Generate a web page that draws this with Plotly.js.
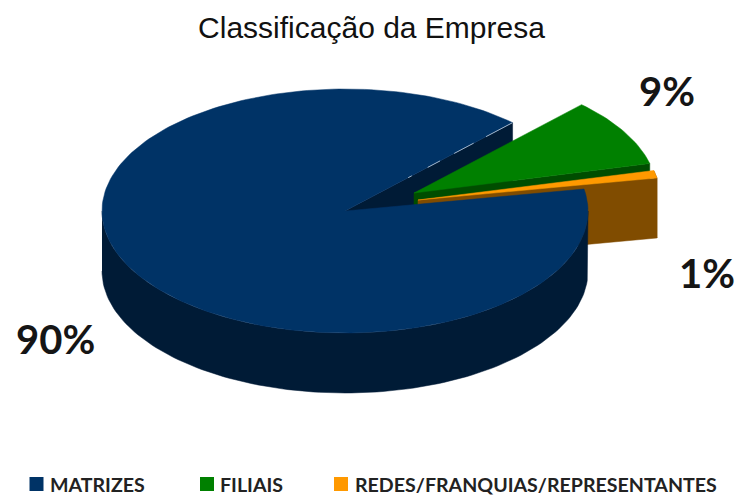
<!DOCTYPE html>
<html>
<head>
<meta charset="utf-8">
<script src="https://cdn.plot.ly/plotly-3.0.1.min.js"></script>
<style>html,body{margin:0;padding:0;background:#fff}#chart{width:737px;height:497px}</style>
</head>
<body>
<div id="chart"></div>
<script>
// data
var categories = ['MATRIZES', 'FILIAIS', 'REDES/FRANQUIAS/REPRESENTANTES'];
var shares = [90, 9, 1];
var percentLabels = ['90%', '9%', '1%'];

// style
var topColors = ['#003366', '#008000', '#FF9900'];
var wallColors = ['#001B36', '#004D00', '#804C00'];
var centres = [[345, 211], [414, 193], [418, 200]];
var labelAnchors = [[55, 339], [667, 91], [707, 273]];
var legendMarkX = [36.5, 207, 341];
var legendTextX = [50, 220, 355];
var legendY = 484;
var RX = 243, RY = 122, DEPTH = 60, START = 46.4;

function rad(d) { return d * Math.PI / 180; }
function pt(c, t, dy) { return [c[0] + RX * Math.cos(rad(t)), c[1] - RY * Math.sin(rad(t)) + (dy || 0)]; }
function arc(c, a, b, dy) {
  var n = Math.max(2, Math.ceil(Math.abs(b - a) / 1.5)), out = [];
  for (var i = 0; i <= n; i++) out.push(pt(c, a + (b - a) * i / n, dy));
  return out;
}
function poly(points, color) {
  return {
    type: 'scatter', mode: 'lines', fill: 'toself', fillcolor: color,
    x: points.map(function (p) { return p[0]; }), y: points.map(function (p) { return p[1]; }),
    line: { width: 0.5, color: color }, showlegend: false, hoverinfo: 'skip'
  };
}
function radialWall(c, t, color) {
  var e = pt(c, t);
  return poly([c, e, [e[0], e[1] + DEPTH], [c[0], c[1] + DEPTH], c], color);
}

// angular spans derived from shares: first slice runs counter-clockwise from START,
// the others run clockwise from START
var total = shares.reduce(function (a, b) { return a + b; }, 0);
var span = shares.map(function (v) { return v / total * 360; });
var mainEnd = START + span[0];
var greenEnd = START - span[1];
var orangeEnd = greenEnd - span[2];

var traces = [];
// main slice cut face behind the exploded slices
traces.push(radialWall(centres[0], START, wallColors[0]));
// green
traces.push(radialWall(centres[1], greenEnd, wallColors[1]));
traces.push(poly([centres[1]].concat(arc(centres[1], START, greenEnd)).concat([centres[1]]), topColors[1]));
// orange
traces.push(radialWall(centres[2], orangeEnd, wallColors[2]));
traces.push(poly(arc(centres[2], greenEnd, orangeEnd).concat(arc(centres[2], orangeEnd, greenEnd, DEPTH)), wallColors[2]));
traces.push(poly([centres[2]].concat(arc(centres[2], greenEnd, orangeEnd)).concat([centres[2]]), topColors[2]));
// main outer wall (front half of the rim) and top
traces.push(poly(arc(centres[0], 180, 360).concat(arc(centres[0], 360, 180, DEPTH)), wallColors[0]));
traces.push(poly([centres[0]].concat(arc(centres[0], START, mainEnd)).concat([centres[0]]), topColors[0]));
// faint dotted highlight on the cut edge
var edge = pt(centres[0], START);
traces.push({
  type: 'scatter', mode: 'lines', x: [edge[0], centres[0][0]], y: [edge[1], centres[0][1]],
  line: { width: 1, color: '#9fb3c8', dash: '30px,14px,22px,16px,14px,18px,4px,200px' },
  showlegend: false, hoverinfo: 'skip'
});

// legend row
categories.forEach(function (name, i) {
  traces.push({
    type: 'scatter', mode: 'markers', x: [legendMarkX[i]], y: [legendY], name: name,
    marker: { symbol: 'square', size: 14, color: topColors[i] },
    showlegend: false, hoverinfo: 'skip', cliponaxis: false
  });
});

var annotations = percentLabels.map(function (t, i) {
  return {
    x: labelAnchors[i][0], y: labelAnchors[i][1], xref: 'x', yref: 'y', text: t, showarrow: false,
    xanchor: 'center', yanchor: 'middle',
    font: { family: 'Lato, sans-serif', size: 40, weight: 700, color: '#151515' }
  };
}).concat(categories.map(function (name, i) {
  return {
    x: legendTextX[i], y: legendY, xref: 'x', yref: 'y', text: name, showarrow: false,
    xanchor: 'left', yanchor: 'middle', xshift: -2,
    font: { family: 'Lato, sans-serif', size: 19.6, weight: 700, color: '#222222' }
  };
}));

var layout = {
  width: 737, height: 497,
  margin: { l: 0, r: 0, t: 0, b: 0 },
  paper_bgcolor: '#ffffff', plot_bgcolor: '#ffffff',
  title: {
    text: 'Classificação da Empresa', x: 371.5 / 737, xanchor: 'center', y: 1 - 27 / 497, yanchor: 'middle',
    font: { family: 'Liberation Sans, Arial, sans-serif', size: 30, color: '#111111' }
  },
  xaxis: { range: [0, 737], visible: false, fixedrange: true },
  yaxis: { range: [497, 0], visible: false, fixedrange: true },
  showlegend: false,
  annotations: annotations
};
Plotly.newPlot('chart', traces, layout, { displayModeBar: false, staticPlot: true });
</script>
</body>
</html>
